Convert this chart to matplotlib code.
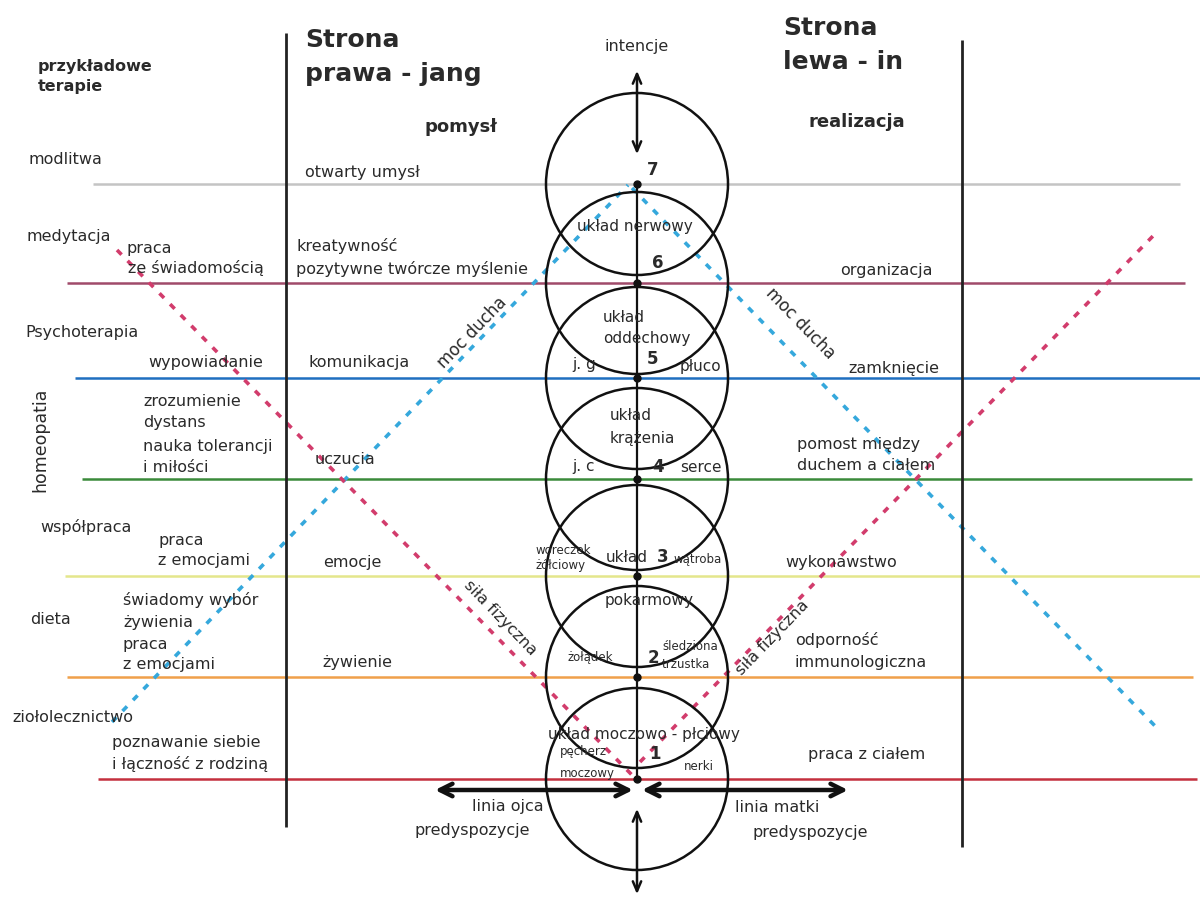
import matplotlib.pyplot as plt
from matplotlib.patches import Circle

# chakry: numer, poziom (y w pikselach), kolor linii poziomej
chakra_nums = ['1', '2', '3', '4', '5', '6', '7']
level_y = [779, 677, 576, 479, 378, 283, 184]
level_colors = ['#c4303e', '#f0a04a', '#e4e68c', '#3a8a3a', '#1f6fc0', '#a04a6a', '#c4c4c4']
level_x0 = [98, 67, 65, 82, 75, 67, 93]
level_x1 = [1197, 1193, 1200, 1192, 1200, 1185, 1180]

therapies = ['modlitwa', 'medytacja', 'Psychoterapia', 'współpraca', 'dieta', 'ziołolecznictwo']
therapy_pos = [(28, 159), (27, 237), (25, 332), (40, 527), (30, 620), (12, 718)]

therapy_notes = ['praca', 'ze świadomością', 'wypowiadanie', 'zrozumienie', 'dystans',
                 'nauka tolerancji', 'i miłości', 'praca', 'z emocjami', 'świadomy wybór',
                 'żywienia', 'praca', 'z emocjami', 'poznawanie siebie', 'i łączność z rodziną']
note_pos = [(127, 248), (128, 268), (148, 363), (143, 401), (143, 422), (143, 446), (143, 468),
            (158, 540), (158, 560), (123, 600), (123, 622), (123, 645), (123, 665),
            (112, 743), (112, 764)]

right_side = ['otwarty umysł', 'kreatywność', 'pozytywne twórcze myślenie', 'komunikacja',
              'uczucia', 'emocje', 'żywienie']
right_pos = [(305, 173), (296, 246), (296, 269), (308, 363), (315, 460), (323, 562), (322, 662)]

left_side = ['organizacja', 'zamknięcie', 'pomost między', 'duchem a ciałem', 'wykonawstwo',
             'odporność', 'immunologiczna', 'praca z ciałem']
left_pos = [(840, 270), (848, 368), (797, 444), (797, 465), (785, 563), (795, 640),
            (795, 662), (808, 754)]

organs = ['układ nerwowy', 'układ', 'oddechowy', 'j. g', 'płuco', 'układ', 'krążenia',
          'j. c', 'serce', 'układ', 'pokarmowy', 'układ moczowo - płciowy']
organ_pos = [(577, 226), (603, 317), (603, 338), (572, 365), (680, 366), (610, 416),
             (610, 438), (572, 466), (680, 467), (606, 557), (605, 601), (548, 734)]

small_organs = ['woreczek', 'żółciowy', 'wątroba', 'żołądek', 'śledziona', 'trzustka',
                'pęcherz', 'moczowy', 'nerki']
small_pos = [(535, 550), (535, 566), (673, 560), (568, 658), (662, 647), (662, 664),
             (560, 752), (560, 773), (684, 767)]
num_pos = [(649, 754), (648, 658), (657, 557), (652, 467), (647, 359), (652, 263), (647, 170)]

bottom_labels = ['linia ojca', 'predyspozycje', 'linia matki', 'predyspozycje']
bottom_pos = [(472, 807), (415, 830), (735, 807), (753, 833)]

cx = 637
r = 91
txt = '#2a2a2a'

fig = plt.figure(figsize=(12, 8.99), dpi=100)
ax = fig.add_axes([0, 0, 1, 1])
ax.set_xlim(0, 1200)
ax.set_ylim(899, 0)
ax.axis('off')

# linie poziomów
for y, c, x0, x1 in zip(level_y, level_colors, level_x0, level_x1):
    ax.hlines(y, x0, x1, color=c, lw=1.8, zorder=1)

# przekątne: moc ducha (niebieskie), siła fizyczna (różowe)
dash = (0, (1.8, 2.4))
ax.plot([112, 628], [722, 185], color='#35a8dc', lw=2.6, ls=dash, zorder=2)
ax.plot([632, 1157], [188, 728], color='#35a8dc', lw=2.6, ls=dash, zorder=2)
ax.plot([117, 632], [250, 775], color='#d23c6c', lw=2.6, ls=dash, zorder=2)
ax.plot([640, 1153], [762, 236], color='#d23c6c', lw=2.6, ls=dash, zorder=2)

# pionowe linie stron
ax.vlines(286, 33, 827, color='#222222', lw=2, zorder=3)
ax.vlines(962, 40, 847, color='#222222', lw=2, zorder=3)

# okręgi czakr
for y in level_y:
    ax.add_patch(Circle((cx, y), r, fill=False, ec='#111111', lw=1.8, zorder=4))
ax.vlines(cx, level_y[-1], level_y[0], color='#111111', lw=1.6, zorder=4)
ax.plot([cx] * len(level_y), level_y, 'o', color='#111111', ms=5, zorder=5)

# strzałki
ax.annotate('', xy=(cx, 68), xytext=(cx, 157),
            arrowprops=dict(arrowstyle='<->,head_length=0.7,head_width=0.3', lw=1.8, color='#111111'))
ax.annotate('', xy=(cx, 806), xytext=(cx, 897),
            arrowprops=dict(arrowstyle='<->,head_length=0.7,head_width=0.3', lw=1.8, color='#111111'))
ax.annotate('', xy=(435, 790), xytext=(633, 790),
            arrowprops=dict(arrowstyle='<->,head_length=0.9,head_width=0.45', lw=3.2, color='#111111',
                            shrinkA=0, shrinkB=0))
ax.annotate('', xy=(642, 790), xytext=(848, 790),
            arrowprops=dict(arrowstyle='<->,head_length=0.9,head_width=0.45', lw=3.2, color='#111111',
                            shrinkA=0, shrinkB=0))


def put(x, y, s, size=11.5, **kw):
    ax.text(x, y, s, fontsize=size, color=txt, va='center', ha='left', zorder=6, **kw)


# nagłówki
put(38, 66, 'przykładowe', 11.5, fontweight='bold')
put(38, 87, 'terapie', 11.5, fontweight='bold')
put(305, 40, 'Strona', 18, fontweight='bold')
put(305, 74, 'prawa - jang', 18, fontweight='bold')
put(783, 28, 'Strona', 18, fontweight='bold')
put(783, 62, 'lewa - in', 18, fontweight='bold')
put(425, 127, 'pomysł', 13, fontweight='bold')
put(808, 122, 'realizacja', 13, fontweight='bold')
ax.text(cx, 46, 'intencje', fontsize=11.5, color=txt, ha='center', va='center')
ax.text(40, 440, 'homeopatia', fontsize=12.5, color=txt, ha='center', va='center', rotation=90)

for s, (x, y) in zip(therapies, therapy_pos):
    put(x, y, s)
for s, (x, y) in zip(therapy_notes, note_pos):
    put(x, y, s)
for s, (x, y) in zip(right_side, right_pos):
    put(x, y, s)
for s, (x, y) in zip(left_side, left_pos):
    put(x, y, s)
for s, (x, y) in zip(organs, organ_pos):
    put(x, y, s, 11)
for s, (x, y) in zip(small_organs, small_pos):
    put(x, y, s, 8.5)
for s, (x, y) in zip(chakra_nums, num_pos):
    put(x, y, s, 12, fontweight='bold')
for s, (x, y) in zip(bottom_labels, bottom_pos):
    put(x, y, s)

# opisy przekątnych
ax.text(472, 333, 'moc ducha', fontsize=12, color=txt, rotation=46, ha='center', va='center', zorder=6)
ax.text(800, 323, 'moc ducha', fontsize=12, color=txt, rotation=-46, ha='center', va='center', zorder=6)
ax.text(500, 618, 'siła fizyczna', fontsize=11.5, color=txt, rotation=-46, ha='center', va='center', zorder=6)
ax.text(772, 638, 'siła fizyczna', fontsize=11.5, color=txt, rotation=46, ha='center', va='center', zorder=6)

fig.savefig('out.png', dpi=100)
